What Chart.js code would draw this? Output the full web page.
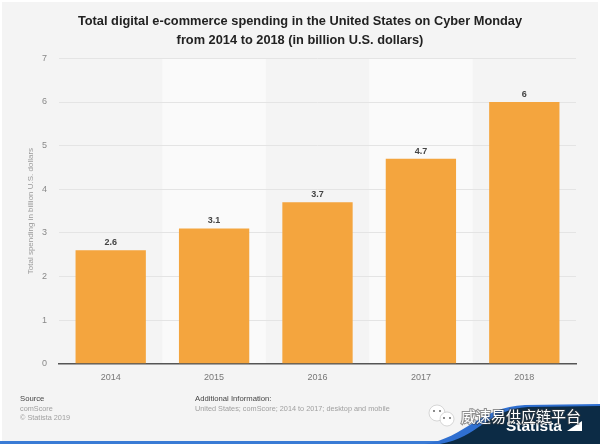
<!DOCTYPE html>
<html>
<head>
<meta charset="utf-8">
<title>Cyber Monday spending</title>
<script src="https://cdn.jsdelivr.net/npm/chart.js@4/dist/chart.umd.min.js"></script>
<style>
    html, body { margin: 0; padding: 0; background: #fff; }
    #wrap { position: relative; width: 600px; height: 444px; overflow: hidden; }
    #chart { filter: blur(0.3px); }
</style>
</head>
<body>
<div id="wrap"><canvas id="chart" width="600" height="444"></canvas></div>
<script>
// data
const years = ['2014', '2015', '2016', '2017', '2018'];
const spending = [2.6, 3.1, 3.7, 4.7, 6];
const yTicks = [0, 1, 2, 3, 4, 5, 6, 7];
const titleLines = [
    'Total digital e-commerce spending in the United States on Cyber Monday',
    'from 2014 to 2018 (in billion U.S. dollars)'
];
const yAxisTitle = 'Total spending in billion U.S. dollars';
const sourceLines = ['comScore', '\u00a9 Statista 2019'];
const infoLine = 'United States; comScore; 2014 to 2017; desktop and mobile';
const watermark = '\u5a01\u901f\u6613\u4f9b\u5e94\u94fe\u5e73\u53f0';

const FONT = '"Liberation Sans", Arial, sans-serif';

// panel behind everything + lighter bands on every second category
const backdrop = {
    id: 'backdrop',
    beforeDraw(chart) {
        const { ctx, chartArea: a, scales: { x } } = chart;
        ctx.save();
        ctx.fillStyle = '#ffffff';
        ctx.fillRect(0, 0, 600, 444);
        ctx.fillStyle = '#f4f4f4';
        ctx.fillRect(2, 2, 596, 439);
        ctx.fillStyle = '#3a7bd5';
        ctx.fillRect(0, 441, 600, 3);
        const w = x.width / years.length;
        ctx.fillStyle = '#fafafa';
        years.forEach((y, i) => {
            if (i % 2 === 1) ctx.fillRect(x.getPixelForValue(i) - w / 2, a.top, w, a.height);
        });
        ctx.restore();
    }
};

// value labels above the bars
const barLabels = {
    id: 'barLabels',
    afterDatasetsDraw(chart) {
        const { ctx } = chart;
        ctx.save();
        ctx.font = 'bold 9px ' + FONT;
        ctx.fillStyle = '#444444';
        ctx.textAlign = 'center';
        ctx.textBaseline = 'bottom';
        chart.getDatasetMeta(0).data.forEach((bar, i) => {
            ctx.fillText(String(spending[i]), bar.x, bar.y - 3);
        });
        ctx.restore();
    }
};

// source block, statista banner, watermark
const footer = {
    id: 'footer',
    afterDraw(chart) {
        const { ctx } = chart;
        ctx.save();
        ctx.textAlign = 'left';
        ctx.textBaseline = 'alphabetic';

        ctx.font = '7.7px ' + FONT;
        ctx.fillStyle = '#444444';
        ctx.fillText('Source', 20, 401);
        ctx.fillText('Additional Information:', 195, 401);
        ctx.font = '7.3px ' + FONT;
        ctx.fillStyle = '#a0a0a0';
        ctx.fillText(sourceLines[0], 20, 411);
        ctx.fillText(sourceLines[1], 20, 420);
        ctx.fillText(infoLine, 195, 411);

        // banner
        ctx.fillStyle = '#2f6fd0';
        ctx.beginPath();
        ctx.moveTo(425, 444);
        ctx.bezierCurveTo(465, 438, 480, 407, 525, 405);
        ctx.lineTo(600, 404);
        ctx.lineTo(600, 444);
        ctx.closePath();
        ctx.fill();
        ctx.fillStyle = '#0c2b45';
        ctx.beginPath();
        ctx.moveTo(440, 444);
        ctx.bezierCurveTo(478, 438, 488, 409, 528, 407);
        ctx.lineTo(600, 406);
        ctx.lineTo(600, 444);
        ctx.closePath();
        ctx.fill();

        ctx.font = 'bold 15.5px ' + FONT;
        ctx.fillStyle = '#ffffff';
        ctx.fillText('Statista', 506, 431);
        ctx.fillRect(567, 421, 15, 10);
        ctx.fillStyle = '#0c2b45';
        ctx.beginPath();
        ctx.moveTo(567, 431);
        ctx.lineTo(582, 421);
        ctx.lineTo(567, 421);
        ctx.closePath();
        ctx.fill();

        // wechat style bubbles
        ctx.fillStyle = '#ffffff';
        ctx.strokeStyle = '#b0b0b0';
        ctx.lineWidth = 0.5;
        [[437, 413, 8], [447, 419, 7]].forEach(([cx, cy, r]) => {
            ctx.beginPath();
            ctx.arc(cx, cy, r, 0, Math.PI * 2);
            ctx.fill();
            ctx.stroke();
        });
        ctx.fillStyle = '#555555';
        [[434, 411], [440, 411], [444, 418], [450, 418]].forEach(([cx, cy]) => {
            ctx.beginPath();
            ctx.arc(cx, cy, 0.9, 0, Math.PI * 2);
            ctx.fill();
        });

        ctx.font = '15px "Noto Sans CJK SC"';
        ctx.lineWidth = 2;
        ctx.strokeStyle = 'rgba(60,60,60,0.55)';
        ctx.strokeText(watermark, 461, 422);
        ctx.fillStyle = '#ffffff';
        ctx.fillText(watermark, 461, 422);
        ctx.restore();
    }
};

new Chart(document.getElementById('chart'), {
    type: 'bar',
    data: {
        labels: years,
        datasets: [{
            data: spending,
            backgroundColor: '#f4a53e',
            categoryPercentage: 0.68,
            barPercentage: 1
        }]
    },
    options: {
        responsive: false,
        animation: false,
        layout: { padding: { left: 24, right: 24, top: 0, bottom: 53.5 } },
        plugins: {
            legend: { display: false },
            tooltip: { enabled: false },
            title: {
                display: true,
                text: titleLines,
                color: '#222222',
                font: { family: FONT, size: 12.8, weight: 'bold', lineHeight: 1.5 },
                padding: { top: 12, bottom: 8 }
            }
        },
        scales: {
            x: {
                grid: { display: false, drawTicks: false },
                border: { color: '#555555', width: 1.5 },
                ticks: { color: '#777777', font: { family: FONT, size: 9 }, padding: 8 }
            },
            y: {
                min: 0,
                max: 7,
                afterFit(scale) { scale.width = 35; },
                afterBuildTicks(scale) { scale.ticks = yTicks.map(v => ({ value: v })); },
                grid: { color: '#e4e4e4', drawTicks: false },
                border: { display: false },
                title: {
                    display: true,
                    text: yAxisTitle,
                    color: '#9a9a9a',
                    font: { family: FONT, size: 8 },
                    padding: { top: 2, bottom: 6 }
                },
                ticks: { color: '#888888', font: { family: FONT, size: 9 }, padding: 12 }
            }
        }
    },
    plugins: [backdrop, barLabels, footer]
});
</script>
</body>
</html>
